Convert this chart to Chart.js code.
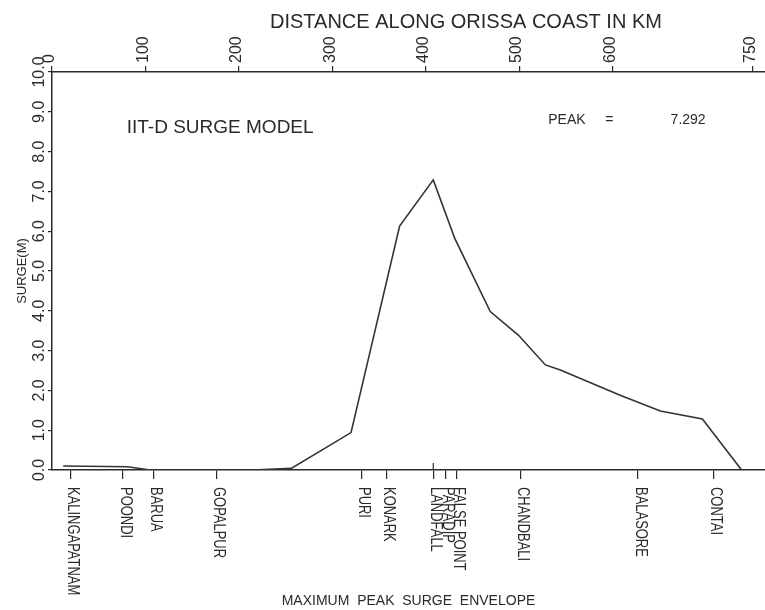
<!DOCTYPE html>
<html>
<head>
<meta charset="utf-8">
<script src="https://cdn.jsdelivr.net/npm/chart.js@4.4.1/dist/chart.umd.min.js"></script>
<style>
  html, body { margin: 0; padding: 0; background: #fff; overflow: hidden; }
  #wrap { width: 765px; height: 610px; }
</style>
</head>
<body>
<div id="wrap"><canvas id="surgeChart" width="765" height="610"></canvas></div>
<script>
// distance along the coast (km) and max peak surge (m)
const distanceKm = [12, 81, 105, 215, 256, 320, 372, 408, 431, 469, 499, 528, 544, 608, 651, 696, 738];
const surgeM = [0.10, 0.08, 0.0, 0.0, 0.04, 0.94, 6.13, 7.29, 5.82, 3.98, 3.39, 2.64, 2.51, 1.88, 1.48, 1.28, 0.0];

const stationNames = ['KALINGAPATNAM', 'POONDI', 'BARUA', 'GOPALPUR', 'PURI', 'KONARK',
  'LANDFALL', 'PARADIP', 'FALSE POINT', 'CHANDBALI', 'BALASORE', 'CONTAI'];
const stationKm = [20, 76, 109, 176, 331, 358, 408, 421, 433, 501, 627, 708];

const distanceTicks = [0, 100, 200, 300, 400, 500, 600, 750];
const surgeTicks = [0, 1, 2, 3, 4, 5, 6, 7, 8, 9, 10];
const peakSurge = 7.292;

const INK = '#2a2a2a';
const FONT = '"Liberation Sans", Arial, sans-serif';

function fixTicks(values) {
  return scale => { scale.ticks = values.map(v => ({ value: v })); };
}

const labelsPlugin = {
  id: 'surgeLabels',
  afterDraw(chart) {
    const ctx = chart.ctx;
    const x = chart.scales.x;
    const y = chart.scales.y;
    ctx.save();
    ctx.fillStyle = INK;
    ctx.textBaseline = 'middle';

    ctx.font = '20px ' + FONT;
    ctx.textAlign = 'center';
    ctx.fillText('DISTANCE ALONG ORISSA COAST IN KM', x.getPixelForValue(443), 22);

    ctx.font = '19px ' + FONT;
    ctx.textAlign = 'left';
    ctx.fillText('IIT-D SURGE MODEL', x.getPixelForValue(80), y.getPixelForValue(8.6));

    ctx.font = '14px ' + FONT;
    ctx.fillText('PEAK', x.getPixelForValue(531), y.getPixelForValue(8.8));
    ctx.fillText('=', x.getPixelForValue(592), y.getPixelForValue(8.8));
    ctx.fillText(peakSurge.toFixed(3), x.getPixelForValue(662), y.getPixelForValue(8.8));

    // landfall tick also pokes up into the plot
    const lf = x.getPixelForValue(stationKm[6]);
    ctx.strokeStyle = INK;
    ctx.lineWidth = 1.2;
    ctx.beginPath();
    ctx.moveTo(lf, x.top);
    ctx.lineTo(lf, x.top - 7);
    ctx.stroke();

    // station names, rotated to read downward, squeezed like the plotter font
    ctx.font = '16px ' + FONT;
    stationNames.forEach((name, i) => {
      const px = x.getPixelForValue(stationKm[i]);
      ctx.save();
      ctx.translate(px + 2, x.top + 17);
      ctx.rotate(Math.PI / 2);
      ctx.scale(0.81, 1);
      ctx.textAlign = 'left';
      ctx.fillText(name, 0, 0);
      ctx.restore();
    });
    ctx.restore();
  }
};

new Chart(document.getElementById('surgeChart'), {
  type: 'scatter',
  data: {
    datasets: [{
      data: distanceKm.map((d, i) => ({ x: d, y: surgeM[i] })),
      showLine: true,
      borderColor: '#333',
      borderWidth: 1.6,
      pointRadius: 0,
      tension: 0
    }]
  },
  options: {
    responsive: false,
    animation: false,
    layout: { padding: 0 },
    plugins: { legend: { display: false }, tooltip: { enabled: false } },
    scales: {
      x: {
        type: 'linear', position: 'bottom', min: 0, max: 763,
        afterBuildTicks: fixTicks(stationKm),
        afterFit: s => { s.height = 140; },
        border: { color: INK, width: 1.5 },
        grid: { drawOnChartArea: false, tickLength: 9, color: INK, lineWidth: 1.2 },
        ticks: { display: false },
        title: {
          display: true, text: 'MAXIMUM  PEAK  SURGE  ENVELOPE', color: INK,
          font: { family: FONT, size: 14 }, padding: { top: 0, bottom: 0 }
        }
      },
      x2: {
        type: 'linear', position: 'top', min: 0, max: 763,
        afterBuildTicks: fixTicks(distanceTicks),
        afterFit: s => { s.height = 72; },
        border: { color: INK, width: 1.5 },
        grid: { drawOnChartArea: false, tickLength: 6, color: INK, lineWidth: 1.2 },
        ticks: {
          minRotation: 90, maxRotation: 90, padding: 3, labelOffset: 17,
          color: INK, font: { family: FONT, size: 16 }
        }
      },
      y: {
        type: 'linear', position: 'left', min: 0, max: 10,
        afterBuildTicks: fixTicks(surgeTicks),
        afterFit: s => { s.width = 52; },
        border: { color: INK, width: 1.5 },
        grid: { drawOnChartArea: false, tickLength: 4, color: INK, lineWidth: 1.2 },
        ticks: {
          minRotation: 90, maxRotation: 90, crossAlign: 'center', padding: -7,
          color: INK, font: { family: FONT, size: 16 },
          callback: v => v.toFixed(1)
        },
        title: {
          display: true, text: 'SURGE(M)', color: INK,
          font: { family: FONT, size: 13 }, padding: { top: 15, bottom: 0 }
        }
      }
    }
  },
  plugins: [labelsPlugin]
});
</script>
</body>
</html>
